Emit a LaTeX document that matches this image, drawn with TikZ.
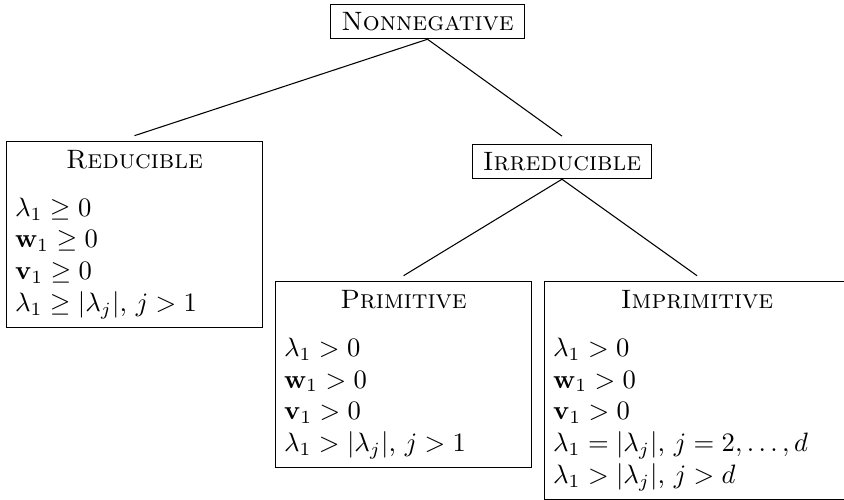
\documentclass[tikz,border=0pt]{standalone}
\usepackage{amsmath,amssymb}
\usetikzlibrary{positioning}

\tikzset{
  kind/.style={draw, inner xsep=4pt, inner ysep=3pt},
  props/.style={draw, anchor=north, align=left, inner xsep=3.2pt, inner ysep=3.2pt},
}
\newcommand{\boxtitle}[1]{{\centering\textsc{#1}\par}\vspace{6pt}}

\begin{document}
\begin{tikzpicture}
  \useasboundingbox (0,0) rectangle (11.154,-6.595);
  % top of the tree
  \node[kind] (neg) at (5.650,-0.284) {\textsc{Nonnegative}};
  \node[kind] (irr) at (7.427,-2.134) {\textsc{Irreducible}};
  % boxes with the properties
  \node[props, text width=89.8pt] (red) at (1.778,-1.863) {\boxtitle{Reducible}
    $\lambda_1 \geq 0$\\
    $\mathbf{w}_1 \geq 0$\\
    $\mathbf{v}_1 \geq 0$\\
    $\lambda_1 \geq |\lambda_j|$, $j>1$};
  \node[props, text width=89.8pt] (prim) at (5.333,-3.714) {\boxtitle{Primitive}
    $\lambda_1 > 0$\\
    $\mathbf{w}_1 > 0$\\
    $\mathbf{v}_1 > 0$\\
    $\lambda_1 > |\lambda_j|$, $j>1$};
  \node[props, text width=108.2pt] (imprim) at (9.212,-3.714) {\boxtitle{Imprimitive}
    $\lambda_1 > 0$\\
    $\mathbf{w}_1 > 0$\\
    $\mathbf{v}_1 > 0$\\
    $\lambda_1 = |\lambda_j|$, $j=2,\ldots,d$\\
    $\lambda_1 > |\lambda_j|$, $j>d$};
  % branches
  \draw (neg.south) -- ([yshift=0.07cm]red.north);
  \draw (neg.south) -- ([yshift=0.1cm]irr.north);
  \draw (irr.south) -- ([yshift=0.07cm]prim.north);
  \draw (irr.south) -- ([yshift=0.07cm]imprim.north);
\end{tikzpicture}
\end{document}
